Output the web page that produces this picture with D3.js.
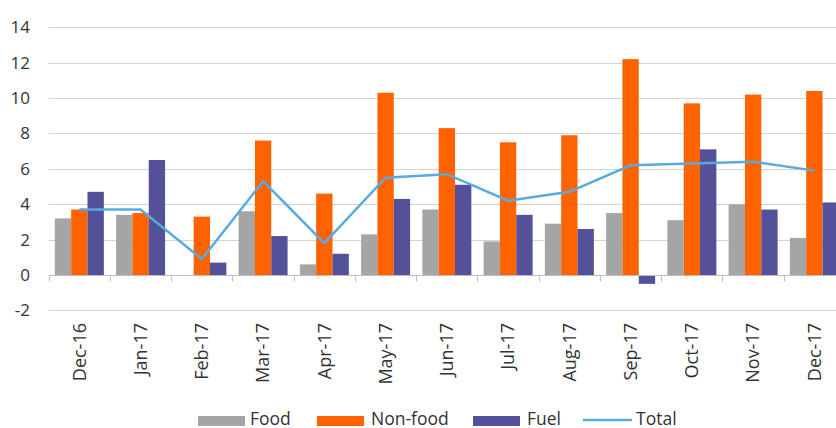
<!DOCTYPE html>
<html lang="en">
<head>
  <meta charset="UTF-8">
  <title>Retail sales contributions</title>
  <style>
    body { margin: 0; background: #fff; }
    svg { display: block; font-family: "Open Sans", sans-serif; }
    .grid line { stroke: #d4d4d4; stroke-width: 1; }
    .ylab, .xlab, .leg { fill: #333; }
  </style>
</head>
<body>
  <svg id="chart"></svg>

  <script src="https://cdnjs.cloudflare.com/ajax/libs/d3/7.8.5/d3.min.js"></script>
  <script>
    const months = ["Dec-16", "Jan-17", "Feb-17", "Mar-17", "Apr-17", "May-17", "Jun-17",
                    "Jul-17", "Aug-17", "Sep-17", "Oct-17", "Nov-17", "Dec-17"];
    const food    = [3.2, 3.4, 0.0, 3.6, 0.6, 2.3, 3.7, 1.9, 2.9, 3.5, 3.1, 4.0, 2.1];
    const nonFood = [3.7, 3.5, 3.3, 7.6, 4.6, 10.3, 8.3, 7.5, 7.9, 12.2, 9.7, 10.2, 10.4];
    const fuel    = [4.7, 6.5, 0.7, 2.2, 1.2, 4.3, 5.1, 3.4, 2.6, -0.5, 7.1, 3.7, 4.1];
    const total   = [3.7, 3.7, 0.9, 5.3, 1.8, 5.5, 5.7, 4.2, 4.7, 6.2, 6.3, 6.4, 5.9];
    const yTicks  = [-2, 0, 2, 4, 6, 8, 10, 12, 14];

    const seriesNames = ["Food", "Non-food", "Fuel"];
    const colors = { "Food": "#a5a5a5", "Non-food": "#ff6200", "Fuel": "#525199", "Total": "#5aaae0" };

    const width = 836, height = 428;
    const svg = d3.select("#chart").attr("width", width).attr("height", height);

    const x = d3.scaleBand().domain(months).range([48.7, 845]).padding(0);
    const x1 = d3.scaleBand().domain(seriesNames)
      .range([x.bandwidth() * 0.1, x.bandwidth() * 0.9]).padding(0);
    const y = d3.scaleLinear().domain([-2, 14]).range([310.4, 27.3]);

    // gridlines
    svg.append("g").attr("class", "grid")
      .selectAll("line")
      .data(yTicks)
      .join("line")
      .attr("x1", 48.7).attr("x2", width)
      .attr("y1", d => Math.round(y(d)) + 0.5).attr("y2", d => Math.round(y(d)) + 0.5);

    // y labels
    svg.append("g")
      .selectAll("text")
      .data(yTicks)
      .join("text")
      .attr("class", "ylab")
      .attr("x", 30).attr("y", d => y(d))
      .attr("dy", "0.35em")
      .attr("text-anchor", "end")
      .style("font-size", "17px")
      .text(d => d);

    // bars
    const rows = months.map((m, i) => ({ m, vals: [food[i], nonFood[i], fuel[i]] }));
    const groups = svg.append("g")
      .selectAll("g")
      .data(rows)
      .join("g")
      .attr("transform", d => `translate(${x(d.m)},0)`);

    groups.selectAll("rect")
      .data(d => d.vals.map((v, k) => ({ key: seriesNames[k], v })))
      .join("rect")
      .attr("x", d => x1(d.key))
      .attr("width", x1.bandwidth())
      .attr("y", d => y(Math.max(0, d.v)))
      .attr("height", d => Math.abs(y(d.v) - y(0)))
      .attr("fill", d => colors[d.key]);

    // zero axis with ticks
    const axisY = Math.round(y(0)) + 0.5;
    svg.append("line")
      .attr("x1", 48.7).attr("x2", width)
      .attr("y1", axisY).attr("y2", axisY)
      .attr("stroke", "#bdbdbd");
    svg.append("g")
      .selectAll("line")
      .data(months)
      .join("line")
      .attr("x1", d => Math.round(x(d)) + 0.5).attr("x2", d => Math.round(x(d)) + 0.5)
      .attr("y1", axisY).attr("y2", axisY + 6)
      .attr("stroke", "#bdbdbd");

    // total line
    const line = d3.line()
      .x((d, i) => x(months[i]) + x.bandwidth() / 2)
      .y(d => y(d));
    svg.append("path")
      .datum(total)
      .attr("d", line)
      .attr("fill", "none")
      .attr("stroke", colors["Total"])
      .attr("stroke-width", 2.5);

    // x labels
    svg.append("g")
      .selectAll("text")
      .data(months)
      .join("text")
      .attr("class", "xlab")
      .attr("transform", d => `translate(${x(d) + x.bandwidth() / 2},323) rotate(-90)`)
      .attr("dy", "0.35em")
      .attr("text-anchor", "end")
      .style("font-size", "18px")
      .text(d => d);

    // legend
    const legend = [
      { name: "Food", sx: 198, tx: 250, type: "rect" },
      { name: "Non-food", sx: 317, tx: 371, type: "rect" },
      { name: "Fuel", sx: 473, tx: 527, type: "rect" },
      { name: "Total", sx: 583, tx: 636, type: "line" }
    ];
    const lg = svg.append("g").selectAll("g").data(legend).join("g");
    lg.filter(d => d.type === "rect").append("rect")
      .attr("x", d => d.sx).attr("y", 416).attr("width", 47).attr("height", 10)
      .attr("fill", d => colors[d.name]);
    lg.filter(d => d.type === "line").append("line")
      .attr("x1", d => d.sx).attr("x2", d => d.sx + 49)
      .attr("y1", 420).attr("y2", 420)
      .attr("stroke", d => colors[d.name]).attr("stroke-width", 2.5);
    lg.append("text")
      .attr("class", "leg")
      .attr("x", d => d.tx).attr("y", 424.5)
      .style("font-size", "17.5px")
      .text(d => d.name);
  </script>
</body>
</html>
